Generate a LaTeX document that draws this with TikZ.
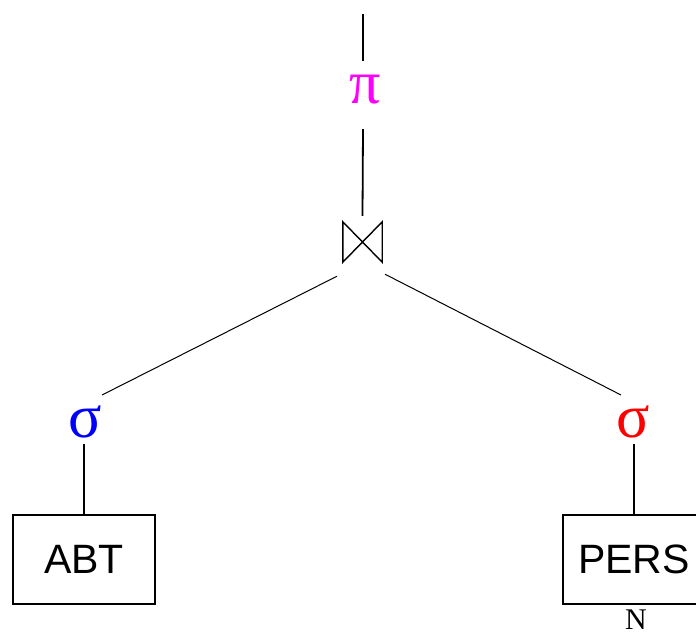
\documentclass[tikz,border=0pt]{standalone}
\usepackage{fontspec}
\setmainfont{Liberation Serif}
\newfontfamily\boxfont{Liberation Sans}
\definecolor{pimag}{RGB}{255,0,255}
\definecolor{sigblue}{RGB}{0,0,255}
\definecolor{sigred}{RGB}{255,0,0}
\begin{document}
\begin{tikzpicture}[x=1pt,y=-1pt,
  thickline/.style={line width=1.8pt},
  thinline/.style={line width=1pt},
  greek/.style={anchor=base, inner sep=0pt, font=\fontsize{62}{62}\selectfont},
  relbox/.style={draw, line width=1.8pt, minimum width=142pt, minimum height=89pt, inner sep=0pt, font=\boxfont\fontsize{41}{41}\selectfont},
  joinbox/.style={minimum width=39pt, minimum height=40pt, inner sep=0pt},
  note/.style={inner sep=0pt, font=\fontsize{30}{30}\selectfont}
]
\useasboundingbox (0,0) rectangle (696,635);
\coordinate (top) at (363,14);
\node[greek, text=pimag] (pi) at (365,103) {π};
\node[joinbox] (join) at (362.5,242) {};
\draw[line width=1.4pt, line join=miter] (join.north west) -- (join.south west) -- (join.north east) -- (join.south east) -- cycle;
\node[greek, text=sigblue] (sigL) at (85,437) {σ};
\node[greek, text=sigred] (sigR) at (633,437) {σ};
\node[relbox] (abt) at (84,559.5) {ABT};
\node[relbox] (pers) at (634,559.5) {PERS};
\node[note, anchor=base] (n) at (636,629) {N};
\draw[thickline] (top) -- ([xshift=-2pt,yshift=42pt]pi.base);
\draw[thickline] ([xshift=-2pt,yshift=-26pt]pi.base) -- ([yshift=6pt]join.north);
\draw[thinline] ([xshift=-25.5pt,yshift=-14pt]join.south) -- ([xshift=17pt,yshift=42pt]sigL.base);
\draw[thinline] ([xshift=22.5pt,yshift=-12pt]join.south) -- ([xshift=-12pt,yshift=42pt]sigR.base);
\draw[thickline] ([xshift=-1pt,yshift=-7pt]sigL.base) -- (abt.north);
\draw[thickline] ([xshift=1pt,yshift=-7pt]sigR.base) -- (pers.north);
\end{tikzpicture}
\end{document}
